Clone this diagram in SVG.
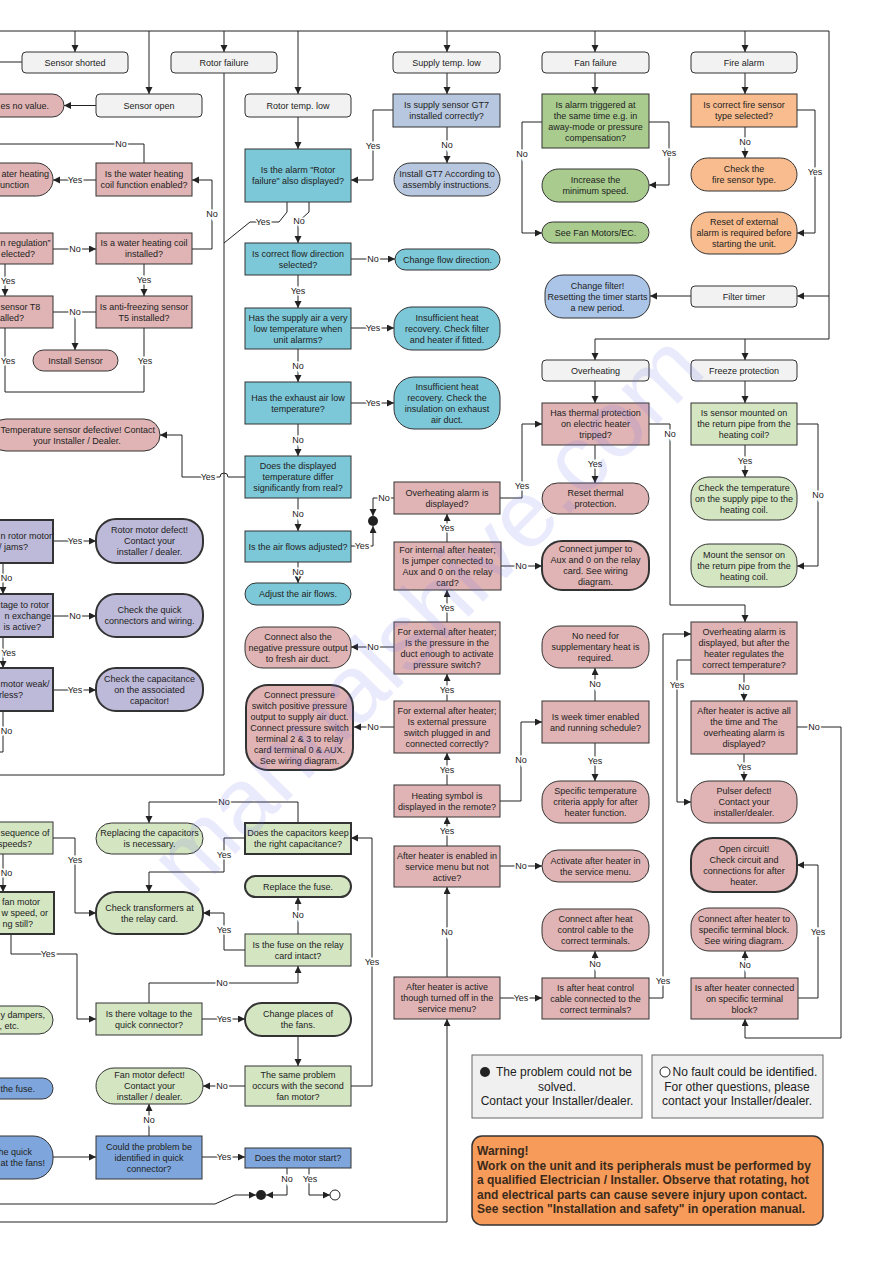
<svg xmlns="http://www.w3.org/2000/svg" width="893" height="1263" viewBox="0 0 893 1263">
<defs>
<marker id="a" markerUnits="userSpaceOnUse" markerWidth="8" markerHeight="8" refX="7" refY="3.5" orient="auto"><path d="M0,0 L7,3.5 L0,7 z" fill="#222"/></marker>
<style>
g rect{stroke:#333;stroke-width:1}
.st{fill:#f2f2f2}
.pk{fill:#e0b4b4}
.cy{fill:#7cc8d8}
.bg{fill:#b7c7df}
.gn{fill:#a9cc8e}
.lg{fill:#d4e5c2}
.or{fill:#f9bc8e}
.bl{fill:#abc5e9}
.db{fill:#7ea6dc}
.pu{fill:#bdb9d8}
.b2{stroke-width:2}
text{font-family:"Liberation Sans",Arial,sans-serif;font-size:9px;fill:#222;text-anchor:middle}
text.e{text-anchor:end}
text.s{text-anchor:start}
#connectors path{fill:none;stroke:#222;stroke-width:1}
#connectors path.m{marker-end:url(#a)}
.l{stroke:#fff;stroke-width:3;paint-order:stroke}
.lgd{font-size:12px}
.w{font-size:12px;font-weight:bold;text-anchor:start;fill:#3a2a1a}
</style>
</defs>
<rect x="0" y="0" width="893" height="1263" style="fill:#fff;stroke:none"/>

<g id="connectors">
<path d="M0,31 H829 V339"/>
<path class="m" d="M829,339 H595 V360"/>
<path class="m" d="M745,339 V360"/>
<path class="m" d="M75,31 V52"/>
<path class="m" d="M149,31 V94"/>
<path class="m" d="M224,31 V52"/>
<path class="m" d="M298,31 V94"/>
<path class="m" d="M447,31 V52"/>
<path class="m" d="M595,31 V52"/>
<path class="m" d="M745,31 V52"/>
<path class="m" d="M829,296 H797"/>
<path class="m" d="M691,296 H650"/>
<path d="M22,62 H0"/>
<path class="m" d="M96,105.5 H64"/>
<path d="M224,73 V775 H0"/>
<path class="m" d="M298,117 V149"/>
<path class="m" d="M447,73 V94"/>
<path class="m" d="M447,127 V163"/>
<path class="m" d="M393,110 H373 V180 H351"/>
<path d="M287,202 V212 L279,222 H250 L224,243"/>
<path class="m" d="M309,202 V212 L298,222 V243"/>
<path class="m" d="M351,259 H395"/>
<path class="m" d="M298,275 V308"/>
<path class="m" d="M351,328 H394"/>
<path class="m" d="M298,349 V382"/>
<path class="m" d="M351,403 H394"/>
<path class="m" d="M298,424 V456"/>
<path class="m" d="M245,477 H228 A4,4 0 0 0 220,477 H182 V435 H160"/>
<path class="m" d="M298,498 V531"/>
<path class="m" d="M298,562 V583"/>
<path class="m" d="M351,546 H373 V526"/>
<path class="m" d="M394,498 H373 V516"/>
<path class="m" d="M500,498 H522 V424 H542"/>
<path class="m" d="M595,381 V403"/>
<path class="m" d="M595,445 V483"/>
<path class="m" d="M649,424 H670 V605 H745 V622"/>
<path class="m" d="M447,542 V514"/>
<path class="m" d="M501,566 H542"/>
<path class="m" d="M447,622 V590"/>
<path class="m" d="M394,647 H351"/>
<path class="m" d="M447,701 V674"/>
<path class="m" d="M394,727 H354"/>
<path class="m" d="M447,785 V753"/>
<path class="m" d="M500,801 H521 V722 H542"/>
<path class="m" d="M595,701 V668"/>
<path class="m" d="M595,743 V781"/>
<path class="m" d="M447,846 V817"/>
<path class="m" d="M500,866 H542"/>
<path class="m" d="M447,977 V887"/>
<path class="m" d="M0,1222 H447 V1019"/>
<path class="m" d="M500,998 H542"/>
<path class="m" d="M595,978 V951"/>
<path class="m" d="M649,998 H663 V634 H691"/>
<path class="m" d="M691,660 H677 V802 H691"/>
<path class="m" d="M744,674 V701"/>
<path class="m" d="M744,754 V781"/>
<path class="m" d="M797,727 H841 V1038 H745 V1019"/>
<path class="m" d="M745,978 V951"/>
<path class="m" d="M798,998 H818 V865 H797"/>
<path class="m" d="M745,381 V403"/>
<path class="m" d="M745,445 V477"/>
<path class="m" d="M797,424 H818 V566 H797"/>
<path class="m" d="M595,73 V94"/>
<path class="m" d="M542,122 H522 V233 H542"/>
<path class="m" d="M649,122 H669 V185 H649"/>
<path class="m" d="M745,73 V94"/>
<path class="m" d="M745,127 V158"/>
<path class="m" d="M797,110 H815 V233 H797"/>
<path d="M144,163 V144 H0"/>
<path class="m" d="M96,180 H53"/>
<path class="m" d="M53,249 H96"/>
<path class="m" d="M192,249 H212 V180 H192"/>
<path class="m" d="M5,264 V296"/>
<path class="m" d="M144,264 V296"/>
<path d="M53,312 H96"/>
<path class="m" d="M75,312 V350"/>
<path d="M5,328 V392 H144 V328"/>
<path class="m" d="M53,541 H96"/>
<path class="m" d="M3,563 V594"/>
<path class="m" d="M53,616 H96"/>
<path class="m" d="M3,637 V668"/>
<path class="m" d="M53,690 H96"/>
<path d="M3,711 V752 H0"/>
<path class="m" d="M53,838 H75 V913 H96"/>
<path class="m" d="M3,854 V892"/>
<path class="m" d="M11,934 V954 H77 V1019 H96"/>
<path class="m" d="M298,823 V802 H149 V823"/>
<path class="m" d="M245,838 H224 V872 H149 V892"/>
<path class="m" d="M298,934 V897"/>
<path class="m" d="M245,950 H224 V913 H203"/>
<path class="m" d="M149,1003 V983 H298 V966"/>
<path class="m" d="M202,1019 H245"/>
<path class="m" d="M298,1036 V1066"/>
<path class="m" d="M351,1086 H372 V838 H351"/>
<path class="m" d="M245,1086 H203"/>
<path class="m" d="M53,1157 H96"/>
<path class="m" d="M149,1136 V1104"/>
<path class="m" d="M202,1157 H245"/>
<path class="m" d="M287,1168 V1195 H266"/>
<path class="m" d="M309,1168 V1195 H330"/>
<path class="m" d="M0,1204 H215 L235,1195 H256"/>
</g>

<g id="labels">
<text class="l" x="447" y="148">No</text>
<text class="l" x="373" y="149">Yes</text>
<text class="l" x="263" y="225">Yes</text>
<text class="l" x="299" y="224">No</text>
<text class="l" x="373" y="262">No</text>
<text class="l" x="298" y="294">Yes</text>
<text class="l" x="373" y="331">Yes</text>
<text class="l" x="298" y="369">No</text>
<text class="l" x="373" y="406">Yes</text>
<text class="l" x="298" y="443">No</text>
<text class="l" x="208" y="480">Yes</text>
<text class="l" x="298" y="517">No</text>
<text class="l" x="298" y="575">No</text>
<text class="l" x="362" y="549">Yes</text>
<text class="l" x="384" y="501">No</text>
<text class="l" x="522" y="489">Yes</text>
<text class="l" x="595" y="467">Yes</text>
<text class="l" x="670" y="437">No</text>
<text class="l" x="447" y="531">Yes</text>
<text class="l" x="521" y="569">No</text>
<text class="l" x="447" y="611">Yes</text>
<text class="l" x="373" y="650">No</text>
<text class="l" x="447" y="693">Yes</text>
<text class="l" x="373" y="730">No</text>
<text class="l" x="447" y="773">Yes</text>
<text class="l" x="521" y="763">No</text>
<text class="l" x="595" y="687">No</text>
<text class="l" x="595" y="764">Yes</text>
<text class="l" x="447" y="834">Yes</text>
<text class="l" x="521" y="869">No</text>
<text class="l" x="447" y="935">No</text>
<text class="l" x="521" y="1001">Yes</text>
<text class="l" x="595" y="967">No</text>
<text class="l" x="663" y="984">Yes</text>
<text class="l" x="677" y="688">Yes</text>
<text class="l" x="744" y="690">No</text>
<text class="l" x="744" y="770">Yes</text>
<text class="l" x="814" y="730">No</text>
<text class="l" x="745" y="968">No</text>
<text class="l" x="818" y="935">Yes</text>
<text class="l" x="745" y="464">Yes</text>
<text class="l" x="818" y="498">No</text>
<text class="l" x="522" y="157">No</text>
<text class="l" x="669" y="156">Yes</text>
<text class="l" x="745" y="145">No</text>
<text class="l" x="815" y="175">Yes</text>
<text class="l" x="121" y="147">No</text>
<text class="l" x="75" y="183">Yes</text>
<text class="l" x="75" y="252">No</text>
<text class="l" x="212" y="217">No</text>
<text class="l" x="8" y="284">Yes</text>
<text class="l" x="144" y="283">Yes</text>
<text class="l" x="75" y="315">No</text>
<text class="l" x="8" y="364">Yes</text>
<text class="l" x="145" y="364">Yes</text>
<text class="l" x="75" y="544">Yes</text>
<text class="l" x="6.5" y="581">No</text>
<text class="l" x="75" y="619">No</text>
<text class="l" x="8.5" y="656">Yes</text>
<text class="l" x="75" y="693">Yes</text>
<text class="l" x="6.5" y="734">No</text>
<text class="l" x="75" y="863">Yes</text>
<text class="l" x="6.5" y="876">No</text>
<text class="l" x="48" y="957">Yes</text>
<text class="l" x="224" y="805">No</text>
<text class="l" x="224" y="858">Yes</text>
<text class="l" x="298" y="918">No</text>
<text class="l" x="224" y="933">Yes</text>
<text class="l" x="222" y="986">No</text>
<text class="l" x="224" y="1022">Yes</text>
<text class="l" x="372" y="965">Yes</text>
<text class="l" x="222" y="1089">No</text>
<text class="l" x="149" y="1123">No</text>
<text class="l" x="224" y="1160">Yes</text>
<text class="l" x="287" y="1182">No</text>
<text class="l" x="310" y="1182">Yes</text>
</g>

<g id="n_sensor_shorted"><rect class="st" x="22" y="52" width="106" height="21" rx="4"/><text x="75" y="65.7">Sensor shorted</text></g>
<g id="n_rotor_failure"><rect class="st" x="171" y="52" width="106" height="21" rx="4"/><text x="224" y="65.7">Rotor failure</text></g>
<g id="n_supply_low"><rect class="st" x="393" y="52" width="107" height="21" rx="4"/><text x="446.5" y="65.7">Supply temp. low</text></g>
<g id="n_fan_failure"><rect class="st" x="542" y="52" width="107" height="21" rx="4"/><text x="595.5" y="65.7">Fan failure</text></g>
<g id="n_fire_alarm"><rect class="st" x="691" y="52" width="106" height="21" rx="4"/><text x="744" y="65.7">Fire alarm</text></g>
<g id="n_sensor_open"><rect class="st" x="96" y="94" width="106" height="23" rx="4"/><text x="149" y="108.7">Sensor open</text></g>
<g id="n_rotor_temp_low"><rect class="st" x="245" y="94" width="106" height="23" rx="4"/><text x="298" y="108.7">Rotor temp. low</text></g>
<g id="n_filter_timer"><rect class="st" x="691" y="286" width="106" height="21" rx="4"/><text x="744" y="299.7">Filter timer</text></g>
<g id="n_overheating"><rect class="st" x="542" y="360" width="107" height="21" rx="4"/><text x="595.5" y="373.7">Overheating</text></g>
<g id="n_freeze"><rect class="st" x="691" y="360" width="106" height="21" rx="4"/><text x="744" y="373.7">Freeze protection</text></g>

<g id="n_no_value"><rect class="pk" x="-40" y="94" width="104" height="23" rx="11.5"/><text class="s" x="0.5" y="108.7">es no value.</text></g>
<g id="n_water_enabled"><rect class="pk" x="96" y="163" width="96" height="33"/><text x="144" y="177.2">Is the water heating<tspan x="144" dy="11">coil function enabled?</tspan></text></g>
<g id="n_water_func"><rect class="pk" x="-60" y="163" width="113" height="33" rx="16.5"/><text class="e" x="49" y="177.2">ater heating<tspan x="29" dy="11">function</tspan></text></g>
<g id="n_regulation"><rect class="pk" x="-60" y="233" width="113" height="31"/><text class="s" x="0.5" y="246.2">n regulation”</text><text class="e" x="35" y="257.2">elected?</text></g>
<g id="n_coil_installed"><rect class="pk" x="96" y="233" width="96" height="31"/><text x="144" y="246.2">Is a water heating coil<tspan x="144" dy="11">installed?</tspan></text></g>
<g id="n_t8"><rect class="pk" x="-60" y="296" width="113" height="32"/><text class="s" x="0.5" y="309.7">sensor T8</text><text class="e" x="24" y="320.7">talled?</text></g>
<g id="n_t5"><rect class="pk" x="96" y="296" width="96" height="32"/><text x="144" y="309.7">Is anti-freezing sensor<tspan x="144" dy="11">T5 installed?</tspan></text></g>
<g id="n_install_sensor"><rect class="pk" x="33" y="350" width="85" height="21" rx="10.5"/><text x="75.5" y="363.7">Install Sensor</text></g>
<g id="n_temp_defective"><rect class="pk" x="-10" y="419" width="170" height="32" rx="16"/><text class="s" x="0.5" y="432.7">Temperature sensor defective! Contact</text><text x="77" y="443.7">your Installer / Dealer.</text></g>

<g id="n_rotor_alarm"><rect class="cy" x="245" y="149" width="106" height="53"/><text x="298" y="173.2">Is the alarm "Rotor<tspan x="298" dy="11">failure" also displayed?</tspan></text></g>
<g id="n_flow_dir"><rect class="cy" x="245" y="243" width="106" height="32"/><text x="298" y="256.7">Is correct flow direction<tspan x="298" dy="11">selected?</tspan></text></g>
<g id="n_change_flow"><rect class="cy" x="395" y="249" width="105" height="21" rx="10.5"/><text x="447.5" y="262.7">Change flow direction.</text></g>
<g id="n_supply_air"><rect class="cy" x="245" y="308" width="106" height="41"/><text x="298" y="320.7">Has the supply air a very<tspan x="298" dy="11">low temperature when</tspan><tspan x="298" dy="11">unit alarms?</tspan></text></g>
<g id="n_insuff1"><rect class="cy" x="394" y="307" width="106" height="43" rx="18"/><text x="447" y="320.7">Insufficient heat<tspan x="447" dy="11">recovery. Check filter</tspan><tspan x="447" dy="11">and heater if fitted.</tspan></text></g>
<g id="n_exhaust"><rect class="cy" x="245" y="382" width="106" height="42"/><text x="298" y="400.7">Has the exhaust air low<tspan x="298" dy="11">temperature?</tspan></text></g>
<g id="n_insuff2"><rect class="cy" x="394" y="377" width="106" height="52" rx="20"/><text x="447" y="389.7">Insufficient heat<tspan x="447" dy="11">recovery. Check the</tspan><tspan x="447" dy="11">insulation on exhaust</tspan><tspan x="447" dy="11">air duct.</tspan></text></g>
<g id="n_displayed_temp"><rect class="cy" x="245" y="456" width="106" height="42"/><text x="298" y="469.2">Does the displayed<tspan x="298" dy="11">temperature differ</tspan><tspan x="298" dy="11">significantly from real?</tspan></text></g>
<g id="n_airflows"><rect class="cy" x="245" y="531" width="106" height="31"/><text x="298" y="549.7">Is the air flows adjusted?</text></g>
<g id="n_adjust"><rect class="cy" x="245" y="583" width="106" height="22" rx="11"/><text x="298" y="597.2">Adjust the air flows.</text></g>

<g id="n_gt7"><rect class="bg" x="393" y="94" width="107" height="33"/><text x="446.5" y="108.2">Is supply sensor GT7<tspan x="446.5" dy="11">installed correctly?</tspan></text></g>
<g id="n_install_gt7"><rect class="bg" x="394" y="163" width="106" height="33" rx="16.5"/><text x="447" y="177.2">Install GT7 According to<tspan x="447" dy="11">assembly instructions.</tspan></text></g>

<g id="n_fan_alarm"><rect class="gn" x="542" y="94" width="107" height="54"/><text x="595.5" y="107.7">Is alarm triggered at<tspan x="595.5" dy="11">the same time e.g. in</tspan><tspan x="595.5" dy="11">away-mode or pressure</tspan><tspan x="595.5" dy="11">compensation?</tspan></text></g>
<g id="n_increase"><rect class="gn" x="542" y="169" width="107" height="33" rx="16.5"/><text x="595.5" y="183.2">Increase the<tspan x="595.5" dy="11">minimum speed.</tspan></text></g>
<g id="n_see_fan"><rect class="gn" x="542" y="222" width="107" height="21" rx="10.5"/><text x="595.5" y="235.7">See Fan Motors/EC.</text></g>

<g id="n_fire_type"><rect class="or" x="691" y="94" width="106" height="33"/><text x="744" y="108.2">Is correct fire sensor<tspan x="744" dy="11">type selected?</tspan></text></g>
<g id="n_check_fire"><rect class="or" x="691" y="158" width="106" height="33" rx="16.5"/><text x="744" y="172.2">Check the<tspan x="744" dy="11">fire sensor type.</tspan></text></g>
<g id="n_reset_ext"><rect class="or" x="691" y="212" width="106" height="42" rx="18"/><text x="744" y="225.2">Reset of external<tspan x="744" dy="11">alarm is required before</tspan><tspan x="744" dy="11">starting the unit.</tspan></text></g>

<g id="n_change_filter"><rect class="bl" x="545" y="275" width="105" height="43" rx="18"/><text x="597.5" y="288.7">Change filter!<tspan x="597.5" dy="11">Resetting the timer starts</tspan><tspan x="597.5" dy="11">a new period.</tspan></text></g>

<g id="n_thermal"><rect class="pk" x="542" y="403" width="107" height="42"/><text x="595.5" y="416.2">Has thermal protection<tspan x="595.5" dy="11">on electric heater</tspan><tspan x="595.5" dy="11">tripped?</tspan></text></g>
<g id="n_reset_thermal"><rect class="pk" x="542" y="483" width="107" height="31" rx="15.5"/><text x="595.5" y="496.2">Reset thermal<tspan x="595.5" dy="11">protection.</tspan></text></g>
<g id="n_oh_alarm"><rect class="pk" x="394" y="482" width="106" height="32"/><text x="447" y="495.7">Overheating alarm is<tspan x="447" dy="11">displayed?</tspan></text></g>
<g id="n_internal"><rect class="pk" x="394" y="542" width="107" height="48"/><text x="447.5" y="552.7">For internal after heater;<tspan x="447.5" dy="11">Is jumper connected to</tspan><tspan x="447.5" dy="11">Aux and 0 on the relay</tspan><tspan x="447.5" dy="11">card?</tspan></text></g>
<g id="n_jumper"><rect class="pk b2" x="542" y="541" width="107" height="49" rx="20"/><text x="595.5" y="552.2">Connect jumper to<tspan x="595.5" dy="11">Aux and 0 on the relay</tspan><tspan x="595.5" dy="11">card. See wiring</tspan><tspan x="595.5" dy="11">diagram.</tspan></text></g>
<g id="n_ext_pressure"><rect class="pk" x="394" y="622" width="106" height="52"/><text x="447" y="634.7">For external after heater;<tspan x="447" dy="11">Is the pressure in the</tspan><tspan x="447" dy="11">duct enough to activate</tspan><tspan x="447" dy="11">pressure switch?</tspan></text></g>
<g id="n_neg_pressure"><rect class="pk" x="245" y="627" width="106" height="41" rx="18"/><text x="298" y="639.7">Connect also the<tspan x="298" dy="11">negative pressure output</tspan><tspan x="298" dy="11">to fresh air duct.</tspan></text></g>
<g id="n_ext_switch"><rect class="pk" x="394" y="701" width="106" height="52"/><text x="447" y="713.7">For external after heater;<tspan x="447" dy="11">Is external pressure</tspan><tspan x="447" dy="11">switch plugged in and</tspan><tspan x="447" dy="11">connected correctly?</tspan></text></g>
<g id="n_conn_switch"><rect class="pk b2" x="246" y="685" width="107" height="85" rx="22"/><text x="299.5" y="697.7">Connect pressure<tspan x="299.5" dy="11">switch positive pressure</tspan><tspan x="299.5" dy="11">output to supply air duct.</tspan><tspan x="299.5" dy="11">Connect pressure switch</tspan><tspan x="299.5" dy="11">terminal 2 &amp; 3 to relay</tspan><tspan x="299.5" dy="11">card terminal 0 &amp; AUX.</tspan><tspan x="299.5" dy="11">See wiring diagram.</tspan></text></g>
<g id="n_heating_symbol"><rect class="pk" x="394" y="785" width="106" height="32"/><text x="447" y="798.7">Heating symbol is<tspan x="447" dy="11">displayed in the remote?</tspan></text></g>
<g id="n_week_timer"><rect class="pk" x="542" y="701" width="107" height="42"/><text x="595.5" y="719.7">Is week timer enabled<tspan x="595.5" dy="11">and running schedule?</tspan></text></g>
<g id="n_no_need"><rect class="pk" x="542" y="626" width="107" height="42" rx="18"/><text x="595.5" y="639.2">No need for<tspan x="595.5" dy="11">supplementary heat is</tspan><tspan x="595.5" dy="11">required.</tspan></text></g>
<g id="n_specific"><rect class="pk" x="542" y="781" width="107" height="42" rx="18"/><text x="595.5" y="794.2">Specific temperature<tspan x="595.5" dy="11">criteria apply for after</tspan><tspan x="595.5" dy="11">heater function.</tspan></text></g>
<g id="n_enabled_not_active"><rect class="pk" x="394" y="846" width="106" height="41"/><text x="447" y="858.7">After heater is enabled in<tspan x="447" dy="11">service menu but not</tspan><tspan x="447" dy="11">active?</tspan></text></g>
<g id="n_activate"><rect class="pk" x="542" y="850" width="107" height="32" rx="16"/><text x="595.5" y="863.7">Activate after heater in<tspan x="595.5" dy="11">the service menu.</tspan></text></g>
<g id="n_active_off"><rect class="pk" x="394" y="977" width="106" height="42"/><text x="447" y="990.2">After heater is active<tspan x="447" dy="11">though turned off in the</tspan><tspan x="447" dy="11">service menu?</tspan></text></g>
<g id="n_cable"><rect class="pk" x="542" y="978" width="107" height="41"/><text x="595.5" y="990.7">Is after heat control<tspan x="595.5" dy="11">cable connected to the</tspan><tspan x="595.5" dy="11">correct terminals?</tspan></text></g>
<g id="n_conn_cable"><rect class="pk" x="542" y="909" width="107" height="42" rx="18"/><text x="595.5" y="922.2">Connect after heat<tspan x="595.5" dy="11">control cable to the</tspan><tspan x="595.5" dy="11">correct terminals.</tspan></text></g>
<g id="n_oh_regulates"><rect class="pk" x="691" y="622" width="106" height="52"/><text x="744" y="634.7">Overheating alarm is<tspan x="744" dy="11">displayed, but after the</tspan><tspan x="744" dy="11">heater regulates the</tspan><tspan x="744" dy="11">correct temperature?</tspan></text></g>
<g id="n_active_all"><rect class="pk" x="691" y="701" width="106" height="53"/><text x="744" y="714.2">After heater is active all<tspan x="744" dy="11">the time and The</tspan><tspan x="744" dy="11">overheating alarm is</tspan><tspan x="744" dy="11">displayed?</tspan></text></g>
<g id="n_pulser"><rect class="pk" x="691" y="781" width="106" height="42" rx="18"/><text x="744" y="794.2">Pulser defect!<tspan x="744" dy="11">Contact your</tspan><tspan x="744" dy="11">installer/dealer.</tspan></text></g>
<g id="n_open_circuit"><rect class="pk b2" x="691" y="838" width="106" height="54" rx="22"/><text x="744" y="851.7">Open circuit!<tspan x="744" dy="11">Check circuit and</tspan><tspan x="744" dy="11">connections for after</tspan><tspan x="744" dy="11">heater.</tspan></text></g>
<g id="n_conn_terminal"><rect class="pk" x="691" y="908" width="106" height="43" rx="18"/><text x="744" y="921.7">Connect after heater to<tspan x="744" dy="11">specific terminal block.</tspan><tspan x="744" dy="11">See wiring diagram.</tspan></text></g>
<g id="n_terminal_block"><rect class="pk" x="691" y="978" width="107" height="41"/><text x="744.5" y="990.7">Is after heater connected<tspan x="744.5" dy="11">on specific terminal</tspan><tspan x="744.5" dy="11">block?</tspan></text></g>

<g id="n_sensor_mounted"><rect class="lg" x="691" y="403" width="106" height="42"/><text x="744" y="416.2">Is sensor mounted on<tspan x="744" dy="11">the return pipe from the</tspan><tspan x="744" dy="11">heating coil?</tspan></text></g>
<g id="n_check_supply"><rect class="lg" x="691" y="477" width="106" height="43" rx="18"/><text x="744" y="490.7">Check the temperature<tspan x="744" dy="11">on the supply pipe to the</tspan><tspan x="744" dy="11">heating coil.</tspan></text></g>
<g id="n_mount"><rect class="lg" x="691" y="544" width="106" height="43" rx="18"/><text x="744" y="557.7">Mount the sensor on<tspan x="744" dy="11">the return pipe from the</tspan><tspan x="744" dy="11">heating coil.</tspan></text></g>

<g id="n_rotor_jams"><rect class="pu b2" x="-60" y="520" width="113" height="43"/><text class="s" x="0.5" y="539.2">n rotor motor</text><text class="e" x="28" y="550.2">/ jams?</text></g>
<g id="n_rotor_defect"><rect class="pu b2" x="96" y="519" width="107" height="44" rx="20"/><text x="149.5" y="533.2">Rotor motor defect!<tspan x="149.5" dy="11">Contact your</tspan><tspan x="149.5" dy="11">installer / dealer.</tspan></text></g>
<g id="n_voltage_rotor"><rect class="pu b2" x="-60" y="594" width="113" height="43"/><text class="s" x="0.5" y="607.7">tage to rotor</text><text class="e" x="51" y="618.7">n exchange<tspan x="41" dy="11">is active?</tspan></text></g>
<g id="n_check_quick"><rect class="pu b2" x="96" y="594" width="107" height="43" rx="20"/><text x="149.5" y="613.2">Check the quick<tspan x="149.5" dy="11">connectors and wiring.</tspan></text></g>
<g id="n_motor_weak"><rect class="pu b2" x="-60" y="668" width="113" height="43"/><text class="s" x="0.5" y="687.2">motor weak/</text><text class="e" x="23" y="698.2">rless?</text></g>
<g id="n_check_cap"><rect class="pu b2" x="96" y="668" width="107" height="43" rx="20"/><text x="149.5" y="681.7">Check the capacitance<tspan x="149.5" dy="11">on the associated</tspan><tspan x="149.5" dy="11">capacitor!</tspan></text></g>

<g id="n_sequence"><rect class="lg" x="-60" y="822" width="113" height="32"/><text class="s" x="0.5" y="835.7">sequence of</text><text class="e" x="32" y="846.7">speeds?</text></g>
<g id="n_replacing"><rect class="lg" x="96" y="823" width="107" height="31" rx="15.5"/><text x="149.5" y="836.2">Replacing the capacitors<tspan x="149.5" dy="11">is necessary.</tspan></text></g>
<g id="n_capacitors"><rect class="lg b2" x="245" y="823" width="106" height="31"/><text x="298" y="836.2">Does the capacitors keep<tspan x="298" dy="11">the right capacitance?</tspan></text></g>
<g id="n_fan_motor_speed"><rect class="lg b2" x="-60" y="892" width="114" height="42"/><text class="e" x="40" y="905.2">fan motor<tspan x="48" dy="11">w speed, or</tspan><tspan x="33" dy="11">ng still?</tspan></text></g>
<g id="n_check_transformers"><rect class="lg b2" x="96" y="892" width="107" height="42" rx="20"/><text x="149.5" y="910.7">Check transformers at<tspan x="149.5" dy="11">the relay card.</tspan></text></g>
<g id="n_replace_fuse"><rect class="lg b2" x="245" y="876" width="106" height="21" rx="10.5"/><text x="298" y="889.7">Replace the fuse.</text></g>
<g id="n_fuse_intact"><rect class="lg" x="245" y="934" width="106" height="32"/><text x="298" y="947.7">Is the fuse on the relay<tspan x="298" dy="11">card intact?</tspan></text></g>
<g id="n_dampers"><rect class="lg" x="-60" y="1006" width="113" height="28" rx="14"/><text class="s" x="0.5" y="1017.7">y dampers,</text><text class="e" x="19" y="1028.7">, etc.</text></g>
<g id="n_voltage_quick"><rect class="lg" x="96" y="1003" width="106" height="32"/><text x="149" y="1016.7">Is there voltage to the<tspan x="149" dy="11">quick connector?</tspan></text></g>
<g id="n_change_places"><rect class="lg b2" x="245" y="1003" width="106" height="33" rx="16.5"/><text x="298" y="1017.2">Change places of<tspan x="298" dy="11">the fans.</tspan></text></g>
<g id="n_same_problem"><rect class="lg" x="245" y="1066" width="106" height="40"/><text x="298" y="1078.2">The same problem<tspan x="298" dy="11">occurs with the second</tspan><tspan x="298" dy="11">fan motor?</tspan></text></g>
<g id="n_fan_defect"><rect class="lg" x="96" y="1068" width="107" height="36" rx="18"/><text x="149.5" y="1078.2">Fan motor defect!<tspan x="149.5" dy="11">Contact your</tspan><tspan x="149.5" dy="11">installer / dealer.</tspan></text></g>

<g id="n_fuse_blue"><rect class="db" x="-60" y="1078" width="113" height="21" rx="10.5"/><text class="e" x="35" y="1091.7">the fuse.</text></g>
<g id="n_quick_fans"><rect class="db" x="-60" y="1136" width="113" height="43" rx="20"/><text class="e" x="32" y="1155.2">he quick<tspan x="45" dy="11">at the fans!</tspan></text></g>
<g id="n_could"><rect class="db" x="96" y="1136" width="106" height="43"/><text x="149" y="1149.7">Could the problem be<tspan x="149" dy="11">identified in quick</tspan><tspan x="149" dy="11">connector?</tspan></text></g>
<g id="n_motor_start"><rect class="db" x="245" y="1148" width="106" height="20"/><text x="298" y="1161.2">Does the motor start?</text></g>

<g id="n_dot_fail"><circle cx="373" cy="521" r="5" fill="#222"/></g>
<g id="n_dot_fail2"><circle cx="261" cy="1195" r="5" fill="#222"/></g>
<g id="n_dot_ok"><circle cx="335" cy="1195" r="5" fill="#fff" stroke="#222"/></g>

<g id="legend_fail"><rect x="472" y="1055" width="170" height="63" style="fill:#f0f0f0;stroke:#666"/><circle cx="485" cy="1072" r="5" fill="#222"/><text class="lgd" x="564" y="1076">The problem could not be</text><text class="lgd" x="557" y="1091">solved.</text><text class="lgd" x="557" y="1105">Contact your Installer/dealer.</text></g>
<g id="legend_ok"><rect x="652" y="1055" width="171" height="63" style="fill:#f0f0f0;stroke:#666"/><circle cx="665" cy="1072" r="5" fill="#fff" stroke="#222"/><text class="lgd" x="745" y="1076">No fault could be identified.</text><text class="lgd" x="737" y="1091">For other questions, please</text><text class="lgd" x="737" y="1105">contact your Installer/dealer.</text></g>
<g id="warning"><rect x="472" y="1136" width="351" height="89" rx="10" style="fill:#f79b5b;stroke:#333;stroke-width:1.5"/>
<text class="w" x="477" y="1155">Warning!</text>
<text class="w" x="477" y="1170">Work on the unit and its peripherals must be performed by</text>
<text class="w" x="477" y="1184">a qualified Electrician / Installer. Observe that rotating, hot</text>
<text class="w" x="477" y="1199">and electrical parts can cause severe injury upon contact.</text>
<text class="w" x="477" y="1213">See section "Installation and safety" in operation manual.</text>
</g>
<text x="190" y="900" transform="rotate(-45.5 190 900)" style="font-size:95px;fill:#6a6af0;fill-opacity:0.14;text-anchor:start">manualshive.com</text>
</svg>
